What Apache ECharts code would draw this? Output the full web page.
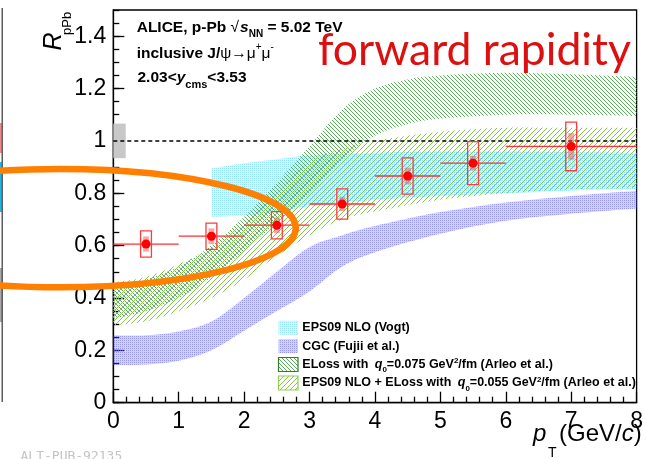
<!DOCTYPE html>
<html>
<head>
<meta charset="utf-8">
<script src="https://cdn.jsdelivr.net/npm/echarts@6/dist/echarts.min.js"></script>
<style>
  html, body { margin: 0; padding: 0; background: #fff; }
  #chart { width: 646px; height: 459px; }
</style>
</head>
<body>
<div id="chart"></div>
<script>
// ALICE inclusive J/psi R_pPb at forward rapidity, p-Pb at 5.02 TeV
const ptCenter   = [0.5, 1.5, 2.5, 3.5, 4.5, 5.5, 7];
const ptLow      = [0, 1, 2, 3, 4, 5, 6];
const ptHigh     = [1, 2, 3, 4, 5, 6, 8];
const rpPb       = [0.606, 0.636, 0.678, 0.759, 0.866, 0.915, 0.979];
const systUncorr = [0.05, 0.05, 0.052, 0.058, 0.069, 0.082, 0.093];
const systCorr   = [0.029, 0.03, 0.03, 0.027, 0.032, 0.028, 0.051];
const globalSyst = 0.066;

// Model bands
const vogtPt   = [1.5, 2, 2.5, 3, 4, 5, 6, 7, 8];
const vogtLow  = [0.71, 0.715, 0.73, 0.75, 0.775, 0.79, 0.80, 0.81, 0.815];
const vogtHigh = [0.895, 0.915, 0.93, 0.945, 0.955, 0.96, 0.96, 0.958, 0.955];

const cgcPt   = [0, 0.5, 1, 1.5, 2, 2.5, 3, 3.5, 4, 5, 6, 7, 8];
const cgcLow  = [0.144, 0.146, 0.16, 0.20, 0.275, 0.35, 0.425, 0.52, 0.575, 0.645, 0.695, 0.722, 0.742];
const cgcHigh = [0.258, 0.258, 0.272, 0.31, 0.40, 0.50, 0.595, 0.64, 0.675, 0.728, 0.765, 0.79, 0.81];

const elossPt   = [0, 0.5, 1, 1.5, 2, 2.5, 3, 3.5, 4, 4.5, 5, 6, 7, 8];
const elossLow  = [0.32, 0.35, 0.40, 0.48, 0.58, 0.69, 0.80, 0.93, 1.02, 1.065, 1.085, 1.10, 1.10, 1.095];
const elossHigh = [0.44, 0.47, 0.52, 0.60, 0.71, 0.84, 0.98, 1.12, 1.20, 1.235, 1.25, 1.26, 1.255, 1.245];

const epsElossPt   = [0, 0.5, 1, 1.5, 2, 2.5, 3, 3.5, 4, 5, 6, 7, 8];
const epsElossLow  = [0.295, 0.31, 0.35, 0.40, 0.47, 0.56, 0.64, 0.70, 0.73, 0.775, 0.80, 0.815, 0.82];
const epsElossHigh = [0.46, 0.48, 0.53, 0.59, 0.69, 0.80, 0.92, 0.97, 1.0, 1.035, 1.05, 1.05, 1.05];

const legendLabels = [
  'EPS09 NLO (Vogt)',
  'CGC (Fujii et al.)',
  'ELoss with q0=0.075 GeV2/fm (Arleo et al.)',
  'EPS09 NLO + ELoss with q0=0.055 GeV2/fm (Arleo et al.)'
];

// Highlight ellipse, in axis units
const ringCenter = [-0.81, 0.667];
const ringHalf = [3.6, 0.226];

// ---- styling constants
const SANS = '"Liberation Sans", Arial, Helvetica, sans-serif';
const BOX_HALF = 0.083;
const CORR_HALF = 0.045;
const GLOBAL_W = 0.19;

// ---- fill patterns
function dotPattern(dot, base) {
  const c = document.createElement('canvas');
  c.width = 2; c.height = 2;
  const g = c.getContext('2d');
  g.fillStyle = base;
  g.fillRect(0, 0, 2, 2);
  g.clearRect(0, 0, 1, 1);
  g.fillStyle = dot;
  g.fillRect(0, 0, 1, 1);
  return { image: c, repeat: 'repeat' };
}
function hatchPattern(color, step, backslash) {
  const c = document.createElement('canvas');
  c.width = step; c.height = step;
  const g = c.getContext('2d');
  g.fillStyle = color;
  for (let i = 0; i < step; i++) {
    g.fillRect(backslash ? i : step - 1 - i, i, 1, 1);
  }
  return { image: c, repeat: 'repeat' };
}
const fillVogt = dotPattern('rgba(70,200,240,0.55)', 'rgba(70,200,240,0.2)');
const fillCgc = dotPattern('rgba(110,110,235,0.7)', 'rgba(110,110,235,0.3)');
const fillEloss = hatchPattern('#5ea95e', 4, true);
const fillEpsEloss = hatchPattern('#86c94a', 5, false);

// ---- smooth band outline through pixel points
function splineSegs(P) {
  let s = '';
  for (let i = 0; i < P.length - 1; i++) {
    const p0 = P[i - 1] || P[i], p1 = P[i], p2 = P[i + 1], p3 = P[i + 2] || P[i + 1];
    const c1 = [p1[0] + (p2[0] - p0[0]) / 6, p1[1] + (p2[1] - p0[1]) / 6];
    const c2 = [p2[0] - (p3[0] - p1[0]) / 6, p2[1] - (p3[1] - p1[1]) / 6];
    s += 'C' + c1[0] + ',' + c1[1] + ' ' + c2[0] + ',' + c2[1] + ' ' + p2[0] + ',' + p2[1] + ' ';
  }
  return s;
}
function bandSeries(name, pts, lo, hi, fill, z) {
  return {
    type: 'custom', name: name, z: z, silent: true, clip: true,
    data: pts.map((p, i) => [p, lo[i], hi[i]]),
    encode: { x: 0, y: [1, 2] },
    renderItem: function (params, api) {
      if (params.dataIndex !== 0) return null;
      const up = pts.map((p, i) => api.coord([p, hi[i]]));
      const dn = pts.map((p, i) => api.coord([p, lo[i]])).reverse();
      const d = 'M' + up[0][0] + ',' + up[0][1] + ' ' + splineSegs(up) +
                'L' + dn[0][0] + ',' + dn[0][1] + ' ' + splineSegs(dn) + 'Z';
      return { type: 'path', shape: { pathData: d }, style: { fill: fill, stroke: null } };
    }
  };
}

// ---- text runs with sub/superscripts, positioned by baseline
const mctx = document.createElement('canvas').getContext('2d');
function fontOf(p) {
  return (p.italic ? 'italic ' : '') + (p.bold ? 'bold ' : '') + p.size + 'px ' + (p.family || SANS);
}
function midOffset(font) {
  mctx.font = font;
  const m = mctx.measureText('Hg');
  return (m.fontBoundingBoxAscent - m.fontBoundingBoxDescent) / 2;
}
function textRun(x, base, parts, common) {
  const out = [];
  parts.forEach(function (part) {
    const p = Object.assign({}, common, part);
    const font = fontOf(p);
    mctx.font = font;
    const w = mctx.measureText(p.t).width;
    const x0 = x + (p.dx || 0);
    out.push({
      type: 'text', x: x0, y: base + (p.dy || 0) - midOffset(font), z: p.z || 30, silent: true,
      style: {
        text: p.t, fill: p.fill || '#000',
        fontSize: p.size, fontFamily: p.family || SANS,
        fontWeight: p.bold ? 'bold' : 'normal', fontStyle: p.italic ? 'italic' : 'normal',
        align: 'left', verticalAlign: 'middle', textAlign: 'left', textVerticalAlign: 'middle'
      }
    });
    x = x0 + w;
  });
  return out;
}

const graphics = [];

// header block
const B = { bold: true, size: 15.5 };
graphics.push(...textRun(136.7, 33.3, [
  { t: 'ALICE, p-Pb ' }, { t: '\u221A', bold: false }, { t: 's', italic: true, dx: 1 },
  { t: 'NN', size: 10, dy: 4 }, { t: ' = 5.02 TeV' }
], B));
graphics.push(...textRun(136.7, 58.8, [
  { t: 'inclusive J/' }, { t: '\u03C8\u2192\u03BC', bold: false },
  { t: '+', size: 10, dy: -8, bold: false }, { t: '\u03BC', bold: false },
  { t: '-', size: 10, dy: -8, bold: false }
], B));
graphics.push(...textRun(137.5, 83.3, [
  { t: '2.03<' }, { t: 'y', italic: true }, { t: 'cms', size: 11, dy: 6 }, { t: '<3.53' }
], B));

// big red label fitted to its measured width
(function () {
  const fam = 'Lato, "Open Sans", sans-serif';
  mctx.font = '40px ' + fam;
  const size = 40 * 313 / mctx.measureText('forward rapidity').width;
  graphics.push(...textRun(318, 68, [{ t: 'forward rapidity', size: size, family: fam, fill: '#dc1010' }], {}));
})();

// legend
const legendRows = [327.8, 346.1, 364.5, 383];
const legendFills = [fillVogt, fillCgc, fillEloss, fillEpsEloss];
const legendStrokes = [null, null, '#2f7f2f', '#8fd055'];
legendRows.forEach(function (cy, i) {
  graphics.push({
    type: 'rect', z: 30, silent: true,
    shape: { x: 278.5, y: cy - 7, width: 19.5, height: 14 },
    style: { fill: legendFills[i], stroke: legendStrokes[i], lineWidth: legendStrokes[i] ? 1.2 : 0 }
  });
});
const L = { bold: true, size: 12.5 };
graphics.push(...textRun(302.3, 331.8, [{ t: legendLabels[0] }], L));
graphics.push(...textRun(302.3, 350.2, [{ t: legendLabels[1] }], L));
function qLine(prefix, value) {
  return [
    { t: prefix }, { t: 'q', italic: true, dx: 3 }, { t: '0', size: 8, dy: 4 },
    { t: '=' + value + ' GeV' }, { t: '2', size: 8, dy: -5 }, { t: '/fm (Arleo et al.)' }
  ];
}
graphics.push(...textRun(302.3, 368.5, qLine('ELoss with ', '0.075'), L));
graphics.push(...textRun(302.3, 386.8, qLine('EPS09 NLO + ELoss with ', '0.055'), L));

// axis titles
graphics.push({
  type: 'text', x: 63 - midOffset('italic 25px ' + SANS), y: 50.5, rotation: Math.PI / 2, z: 30, silent: true,
  style: { text: 'R', fill: '#000', fontSize: 25, fontFamily: SANS, fontStyle: 'italic',
           align: 'left', verticalAlign: 'middle', textAlign: 'left', textVerticalAlign: 'middle' }
});
graphics.push({
  type: 'text', x: 72 - midOffset('13px ' + SANS), y: 35, rotation: Math.PI / 2, z: 30, silent: true,
  style: { text: 'pPb', fill: '#000', fontSize: 13, fontFamily: SANS,
           align: 'left', verticalAlign: 'middle', textAlign: 'left', textVerticalAlign: 'middle' }
});
graphics.push(...textRun(533, 443, [{ t: 'p', italic: true }], { size: 24 }));
graphics.push(...textRun(548, 458, [{ t: 'T' }], { size: 14 }));
graphics.push(...textRun(559, 443, [{ t: '(GeV/' }, { t: 'c', italic: true }, { t: ')' }], { size: 24 }));

// neighbouring panel edge and footer tag
graphics.push({ type: 'rect', z: 1, silent: true, shape: { x: 0, y: 123, width: 1.8, height: 30 }, style: { fill: '#f08a8a' } });
graphics.push({ type: 'rect', z: 1, silent: true, shape: { x: 0, y: 162, width: 1.8, height: 50 }, style: { fill: '#22b5e0' } });
graphics.push({ type: 'rect', z: 1, silent: true, shape: { x: 0, y: 268, width: 2, height: 54 }, style: { fill: '#a9a9a9' } });
graphics.push({ type: 'line', z: 2, silent: true, shape: { x1: 2.2, y1: 8, x2: 2.2, y2: 402 }, style: { stroke: '#444', lineWidth: 1.3 } });
graphics.push(...textRun(20.5, 461.5, [{ t: 'ALT-PUB-92135', family: '"DejaVu Sans Mono", "Liberation Mono", monospace', fill: '#c4c4c4' }], { size: 13 }));

const axisBlack = { color: '#000', width: 1.3 };

const option = {
  animation: false,
  backgroundColor: '#fff',
  grid: { left: 113.3, right: 6.7, top: 10, bottom: 56.3, show: true, borderColor: '#000', borderWidth: 1.3, backgroundColor: 'transparent' },
  xAxis: {
    type: 'value', min: 0, max: 8, interval: 1,
    axisLine: { show: true, onZero: false, lineStyle: axisBlack },
    axisTick: { show: true, inside: true, length: 11, lineStyle: axisBlack },
    minorTick: { show: true, splitNumber: 5, length: 6, lineStyle: axisBlack },
    splitLine: { show: false }, minorSplitLine: { show: false },
    axisLabel: { color: '#000', fontSize: 23, fontFamily: SANS, margin: 7 }
  },
  yAxis: [{
    type: 'value', min: 0, max: 1.5, interval: 0.2, position: 'left',
    axisLine: { show: true, onZero: false, lineStyle: axisBlack },
    axisTick: { show: true, inside: true, length: 11, lineStyle: axisBlack },
    splitLine: { show: false },
    axisLabel: {
      color: '#000', fontSize: 23, fontFamily: SANS, margin: 7, showMaxLabel: false,
      formatter: function (v) { return v > 1.45 ? '' : String(Math.round(v * 10) / 10); }
    }
  }, {
    type: 'value', min: 0, max: 1.5, interval: 0.05, position: 'left', offset: 0,
    axisLine: { show: false },
    axisTick: { show: true, inside: true, length: 6, lineStyle: axisBlack },
    splitLine: { show: false },
    axisLabel: { show: false }
  }],
  graphic: { elements: graphics },
  series: [
    bandSeries('EPS09 NLO (Vogt)', vogtPt, vogtLow, vogtHigh, fillVogt, 2),
    bandSeries('CGC (Fujii et al.)', cgcPt, cgcLow, cgcHigh, fillCgc, 3),
    bandSeries('ELoss q0=0.075', elossPt, elossLow, elossHigh, fillEloss, 4),
    bandSeries('EPS09 NLO + ELoss q0=0.055', epsElossPt, epsElossLow, epsElossHigh, fillEpsEloss, 5),
    {
      type: 'custom', name: 'global', z: 6, silent: true,
      data: [[0, 1, globalSyst]],
      encode: { x: 0, y: 1 },
      renderItem: function (params, api) {
        const g = api.value(2);
        const a = api.coord([api.value(0), api.value(1) + g]);
        const b = api.coord([api.value(0) + GLOBAL_W, api.value(1) - g]);
        return { type: 'rect', shape: { x: a[0], y: a[1], width: b[0] - a[0], height: b[1] - a[1] }, style: { fill: '#c8c8c8' } };
      }
    },
    {
      type: 'line', name: 'unity', z: 7, silent: true, symbol: 'none',
      data: [[0, 1], [8, 1]],
      lineStyle: { color: '#000', width: 1.5, type: [4, 3] }
    },
    {
      type: 'custom', name: 'syst', z: 8, silent: true,
      data: ptCenter.map((p, i) => [p, rpPb[i], ptLow[i], ptHigh[i], systUncorr[i], systCorr[i]]),
      encode: { x: 0, y: 1 },
      renderItem: function (params, api) {
        const x = api.value(0), y = api.value(1);
        const lo = api.coord([api.value(2), y]), hi = api.coord([api.value(3), y]);
        const a = api.coord([x - BOX_HALF, y + api.value(4)]), b = api.coord([x + BOX_HALF, y - api.value(4)]);
        const c = api.coord([x - CORR_HALF, y + api.value(5)]), d = api.coord([x + CORR_HALF, y - api.value(5)]);
        return {
          type: 'group', children: [
            { type: 'line', shape: { x1: lo[0], y1: lo[1], x2: hi[0], y2: hi[1] }, style: { stroke: '#ff3030', lineWidth: 1.3 } },
            { type: 'rect', shape: { x: c[0], y: c[1], width: d[0] - c[0], height: d[1] - c[1] }, style: { fill: 'rgba(240,80,80,0.5)' } },
            { type: 'rect', shape: { x: a[0], y: a[1], width: b[0] - a[0], height: b[1] - a[1] }, style: { fill: 'none', stroke: '#ff3a3a', lineWidth: 1.3 } }
          ]
        };
      }
    },
    {
      type: 'scatter', name: 'R_pPb', z: 9, silent: true,
      data: ptCenter.map((p, i) => [p, rpPb[i]]),
      symbol: 'circle', symbolSize: 9,
      itemStyle: { color: '#ff0000', borderWidth: 0, opacity: 1 }
    },
    {
      type: 'custom', name: 'highlight', z: 20, silent: true, clip: false,
      data: [[ringCenter[0], ringCenter[1], ringHalf[0], ringHalf[1]]],
      encode: { x: 0, y: 1 },
      renderItem: function (params, api) {
        const c = api.coord([api.value(0), api.value(1)]);
        const e = api.coord([api.value(0) + api.value(2), api.value(1) + api.value(3)]);
        const rx = e[0] - c[0], ry = c[1] - e[1];
        const d = 'M' + (c[0] - rx) + ',' + c[1] +
          ' A' + rx + ',' + ry + ' 0 1 0 ' + (c[0] + rx) + ',' + c[1] +
          ' A' + rx + ',' + ry + ' 0 1 0 ' + (c[0] - rx) + ',' + c[1] + ' Z';
        return { type: 'path', shape: { pathData: d }, style: { fill: 'none', stroke: '#ff7f00', lineWidth: 6.5 } };
      }
    }
  ]
};

const chart = echarts.init(document.getElementById('chart'), null, { renderer: 'canvas' });
chart.setOption(option);
</script>
</body>
</html>
